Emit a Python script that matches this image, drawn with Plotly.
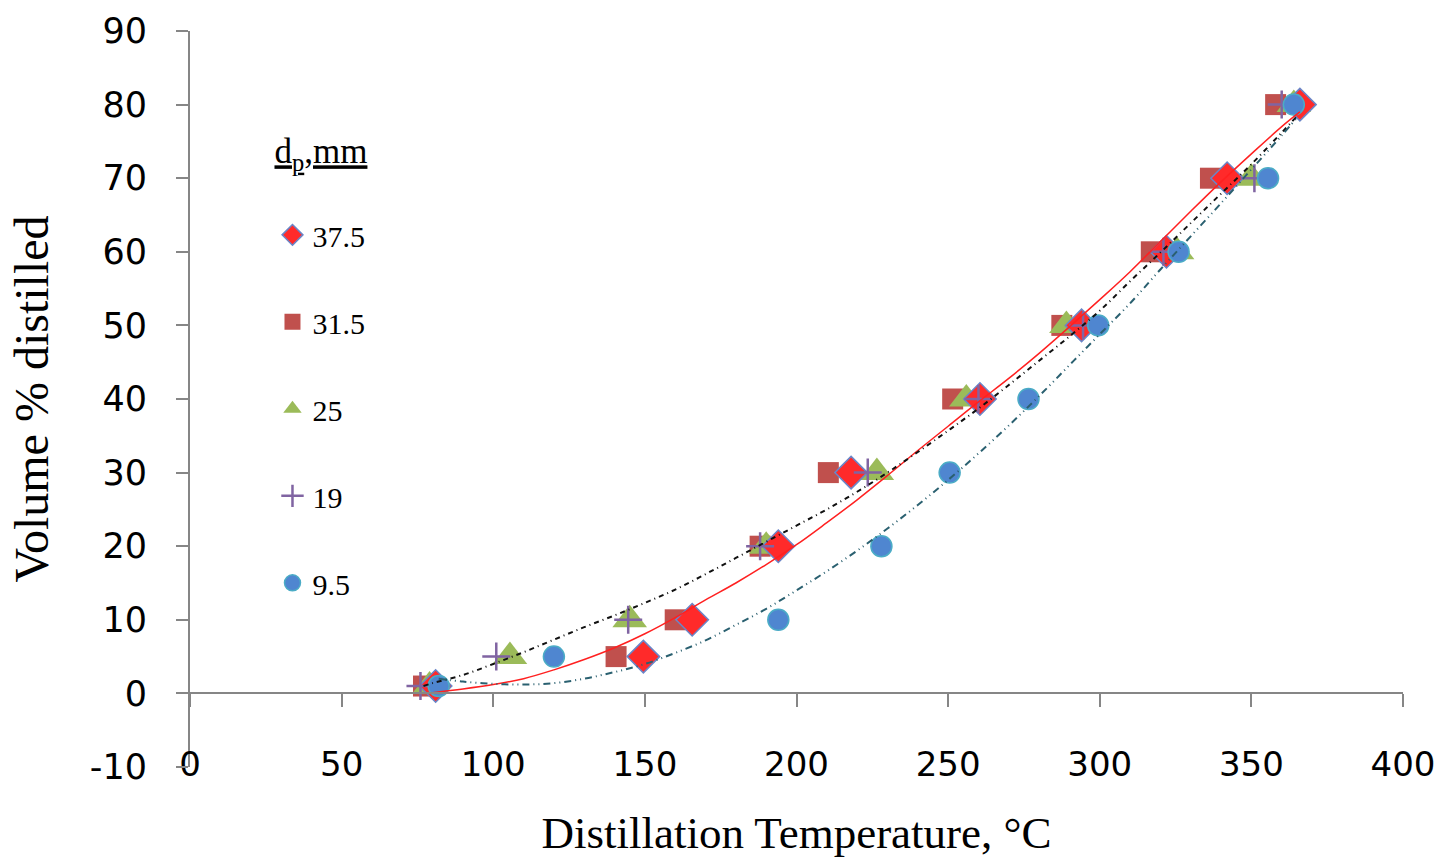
import plotly.graph_objects as go

# ---- data ----
vol = [1, 5, 10, 20, 30, 40, 50, 60, 70, 80]

t_375 = [81, 149.5, 165.6, 194, 218, 260.5, 294, 322, 342, 366]
t_315 = [77, 140.5, 160, 188, 210.5, 251.5, 287.5, 317, 336.5, 358]
t_25 = [79, 105.5, 145, 190, 226.5, 256, 289, 325.5, 350, 364]
t_19 = [76, 101, 144.5, 188, 223.5, 260, 294.5, 321, 351, 360]
t_95 = [82, 120, 194, 228, 250.5, 276.5, 299.5, 326, 355.5, 364]

# trendlines
red_x = [80, 90, 100, 110, 120, 130, 140, 150, 160, 170, 180, 190, 200, 210, 220, 230,
         240, 250, 260, 270, 280, 290, 300, 310, 320, 330, 340, 350, 360, 366]
red_y = [0.1, 0.6, 1.2, 2.0, 3.2, 4.6, 6.2, 8.1, 10.3, 12.7, 15.0, 17.5, 20.2, 23.2, 26.3, 29.6,
         33.0, 36.3, 39.6, 42.8, 46.2, 49.8, 53.5, 57.3, 61.4, 65.5, 69.5, 73.3, 77.0, 79.0]

blk_x = [77, 80, 90, 100, 110, 120, 130, 140, 150, 160, 170, 180, 190, 200, 210, 220, 230,
         240, 250, 260, 270, 280, 290, 300, 310, 320, 330, 340, 350, 360, 365]
blk_y = [1.0, 1.4, 2.5, 4.0, 5.6, 7.3, 9.0, 10.6, 12.3, 14.1, 16.2, 18.4, 20.6, 22.8, 25.0, 27.4, 30.0,
         32.8, 35.7, 38.7, 41.9, 45.2, 48.5, 52.0, 56.0, 59.9, 63.9, 67.9, 71.9, 76.2, 78.4]

teal_x = [82, 90, 100, 110, 120, 130, 140, 150, 160, 170, 180, 190, 200, 210, 220, 230,
          240, 250, 260, 270, 280, 290, 300, 310, 320, 330, 340, 350, 360, 365]
teal_y = [2.0, 1.6, 1.3, 1.2, 1.4, 2.0, 2.9, 4.0, 5.5, 7.2, 9.3, 11.5, 14.0, 16.6, 19.4, 22.4,
          25.6, 29.0, 32.6, 36.4, 40.4, 44.6, 48.8, 53.0, 57.6, 62.1, 66.6, 71.2, 75.8, 78.2]

x_ticks = [0, 50, 100, 150, 200, 250, 300, 350, 400]
y_ticks = [-10, 0, 10, 20, 30, 40, 50, 60, 70, 80, 90]
y_ticktext = ["-10", "0", "10", "20", "30", "40", "50", "60", "70", "80", "90"]

fig = go.Figure()

# markers (drawing order: squares, triangles, diamonds, crosses, circles)
fig.add_trace(go.Scatter(x=t_315, y=vol, mode="markers", name="31.5", legendgroup="g2", legendrank=2,
                         marker=dict(symbol="square", size=21, color="#C0504D")))
fig.add_trace(go.Scatter(x=t_25, y=vol, mode="markers", name="25", legendgroup="g3", legendrank=3,
                         marker=dict(symbol="triangle-up", size=30, color="#9BBB59")))
fig.add_trace(go.Scatter(x=t_375, y=vol, mode="markers", name="37.5", legendgroup="g1", legendrank=1,
                         marker=dict(symbol="diamond", size=25, color="#FF2A2A",
                                     line=dict(color="#6A86C8", width=1.5))))
fig.add_trace(go.Scatter(x=t_19, y=vol, mode="markers", name="19", legendgroup="g4", legendrank=4,
                         marker=dict(symbol="cross-thin", size=20, color="#8064A2",
                                     line=dict(color="#8064A2", width=2.5))))
fig.add_trace(go.Scatter(x=t_95, y=vol, mode="markers", name="9.5", legendgroup="g5", legendrank=5,
                         marker=dict(symbol="circle", size=21, color="#4F86D0",
                                     line=dict(color="#4BACC6", width=1.5))))

# trendlines
fig.add_trace(go.Scatter(x=red_x, y=red_y, mode="lines", showlegend=False, hoverinfo="skip",
                         line=dict(color="#FF2020", width=1.5, shape="spline")))
fig.add_trace(go.Scatter(x=blk_x, y=blk_y, mode="lines", showlegend=False, hoverinfo="skip",
                         line=dict(color="#111111", width=2, shape="spline", dash="5px,4px,1px,4px")))
fig.add_trace(go.Scatter(x=teal_x, y=teal_y, mode="lines", showlegend=False, hoverinfo="skip",
                         line=dict(color="#2A6070", width=2, shape="spline",
                                   dash="7px,4px,1px,4px,1px,4px")))

fig.update_layout(
    width=1439, height=858,
    margin=dict(l=190, r=36, t=31, b=91, autoexpand=False),
    paper_bgcolor="white", plot_bgcolor="white",
    showlegend=True,
    legend=dict(
        x=0.068, y=0.882, xanchor="left", yanchor="top",
        traceorder="grouped", tracegroupgap=45,
        font=dict(family="Liberation Serif", size=30, color="black"),
        title=dict(text="<u>d<sub>p</sub>,mm</u><br> ",
                   font=dict(family="Liberation Serif", size=35, color="black")),
        bgcolor="rgba(0,0,0,0)", borderwidth=0,
        itemsizing="trace",
    ),
    xaxis=dict(
        range=[0, 400], tickvals=x_ticks, anchor="free", position=0.1,
        automargin=False,
        showline=True, linecolor="#868686", linewidth=2,
        ticks="outside", ticklen=13, tickwidth=2, tickcolor="#868686",
        ticklabelstandoff=28,
        tickfont=dict(family="DejaVu Sans", size=34, color="black"),
        showgrid=False, zeroline=False,
        title=dict(text="Distillation Temperature, °C", standoff=34,
                   font=dict(family="Liberation Serif", size=45, color="black")),
    ),
    yaxis=dict(
        range=[-10, 90], tickvals=y_ticks, ticktext=y_ticktext,
        automargin=False,
        showline=True, linecolor="#868686", linewidth=2,
        ticks="outside", ticklen=12, tickwidth=2, tickcolor="#868686",
        ticklabelstandoff=22,
        tickfont=dict(family="DejaVu Sans", size=35, color="black"),
        showgrid=False, zeroline=False,
        title=dict(text="Volume % distilled", standoff=26,
                   font=dict(family="Liberation Serif", size=48, color="black")),
    ),
)

fig.write_html("out.html")
